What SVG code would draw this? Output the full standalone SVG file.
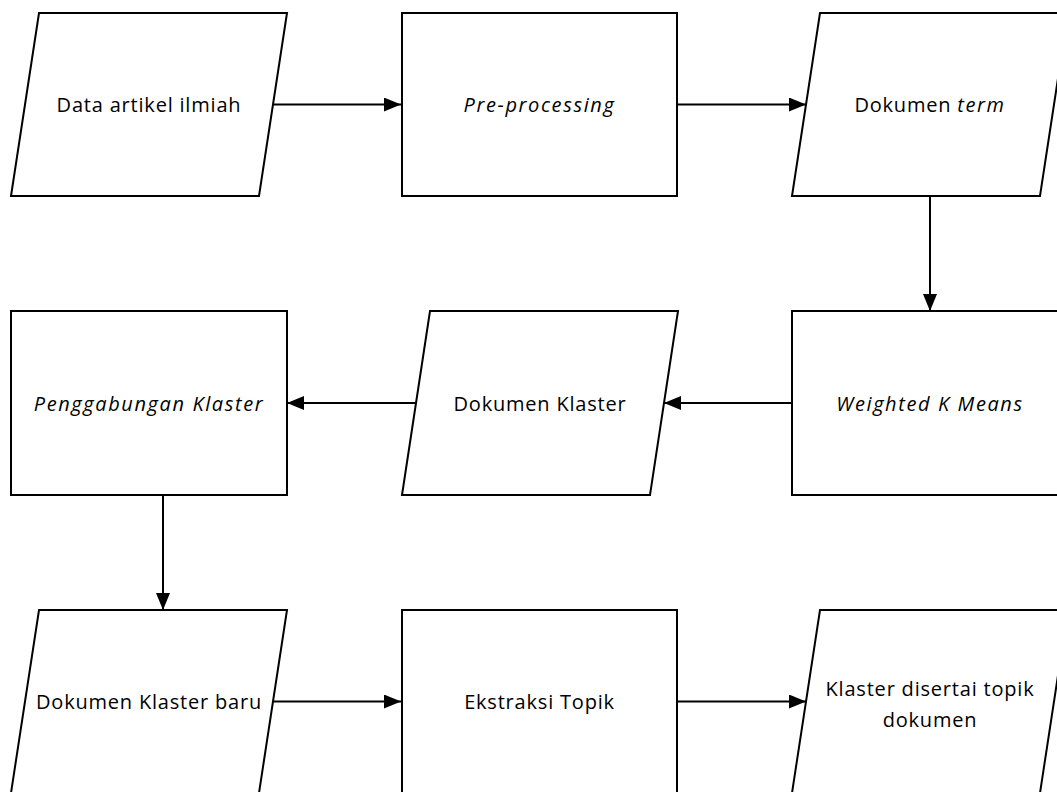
<svg xmlns="http://www.w3.org/2000/svg" width="1057" height="792" viewBox="0 0 1057 792">
<style>
.s{fill:#fff;stroke:#000;stroke-width:2;stroke-linejoin:miter}
.t{font-family:"Open Sans","Liberation Sans",sans-serif;font-size:20px;letter-spacing:0.8px;fill:#000;text-anchor:middle}
.i{font-style:italic;letter-spacing:1.6px}
.c{fill:none;stroke:#000;stroke-width:2}
</style>
<defs>
<marker id="a" markerWidth="18" markerHeight="14" refX="17" refY="7" orient="auto" markerUnits="userSpaceOnUse">
<path d="M0,0 L17,7 L0,14 Z" fill="#000"/>
</marker>
</defs>
<rect width="1057" height="792" fill="#fff"/>
<g id="connectors">
<line class="c" x1="273" y1="104.5" x2="401" y2="104.5" marker-end="url(#a)"/>
<line class="c" x1="677" y1="104.5" x2="806" y2="104.5" marker-end="url(#a)"/>
<line class="c" x1="930" y1="196" x2="930" y2="311" marker-end="url(#a)"/>
<line class="c" x1="792" y1="403" x2="664" y2="403" marker-end="url(#a)"/>
<line class="c" x1="416" y1="403" x2="287" y2="403" marker-end="url(#a)"/>
<line class="c" x1="163" y1="495" x2="163" y2="610" marker-end="url(#a)"/>
<line class="c" x1="273" y1="701.5" x2="401" y2="701.5" marker-end="url(#a)"/>
<line class="c" x1="677" y1="701.5" x2="806" y2="701.5" marker-end="url(#a)"/>
</g>
<g id="n1"><path class="s" d="M39,13 L287,13 L259,196 L11,196 Z"/><text class="t" x="149" y="112">Data artikel ilmiah</text></g>
<g id="n2"><rect class="s" x="402" y="13" width="275" height="183"/><text class="t i" x="539.5" y="112">Pre-processing</text></g>
<g id="n3"><path class="s" d="M820,13 L1068,13 L1040,196 L792,196 Z"/><text class="t" x="930" y="112">Dokumen <tspan class="i">term</tspan></text></g>
<g id="n4"><rect class="s" x="792" y="311" width="276" height="184"/><text class="t i" x="930" y="411">Weighted K Means</text></g>
<g id="n5"><path class="s" d="M430,311 L678,311 L650,495 L402,495 Z"/><text class="t" x="540" y="411">Dokumen Klaster</text></g>
<g id="n6"><rect class="s" x="11" y="311" width="276" height="184"/><text class="t i" x="149" y="411">Penggabungan Klaster</text></g>
<g id="n7"><path class="s" d="M39,610 L287,610 L259,793 L11,793 Z"/><text class="t" x="149" y="709">Dokumen Klaster baru</text></g>
<g id="n8"><rect class="s" x="402" y="610" width="275" height="183"/><text class="t" x="539.5" y="709">Ekstraksi Topik</text></g>
<g id="n9"><path class="s" d="M820,610 L1068,610 L1040,793 L792,793 Z"/><text class="t" x="930" y="696">Klaster disertai topik</text><text class="t" x="930" y="727">dokumen</text></g>
</svg>
